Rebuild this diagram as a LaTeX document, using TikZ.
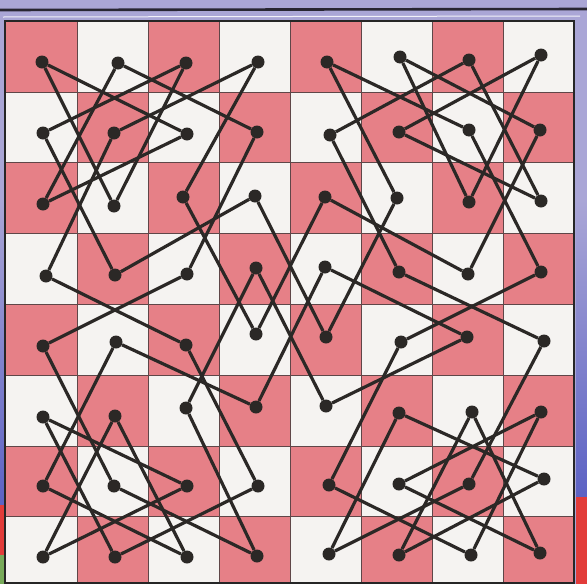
\documentclass[tikz,border=0pt]{standalone}
\usetikzlibrary{shapes.geometric}
\definecolor{frame}{RGB}{170,166,214}
\definecolor{frameblue}{RGB}{92,98,196}
\definecolor{framered}{RGB}{226,60,58}
\definecolor{framegreen}{RGB}{120,170,90}
\definecolor{sqred}{RGB}{230,128,135}
\definecolor{sqwhite}{RGB}{245,243,241}
\definecolor{gridc}{RGB}{95,70,72}
\definecolor{ink}{RGB}{43,40,38}
\tikzset{
  dot/.style={circle,fill=ink,inner sep=0pt,minimum size=13pt},
  tour/.style={draw=ink,line width=3.2pt},
  gridline/.style={draw=gridc,line width=0.9pt}
}
\begin{document}
\begin{tikzpicture}[x=1pt,y=-1pt]
\useasboundingbox (0,0) rectangle (587,584);
% frame
\fill[frame] (0,0) rectangle (587,584);
\shade[top color=frame,bottom color=frameblue] (576,200) rectangle (587,497);
\fill[framered] (576,497) rectangle (587,584);
\shade[top color=frame,bottom color=frameblue] (0,200) rectangle (4,505);
\fill[framered] (0,505) rectangle (4,555);
\fill[framegreen] (0,555) rectangle (4,584);
\draw[draw={rgb,255:red,40;green,38;blue,50},line width=2.6pt] (0,10) -- (587,9);
\draw[draw=white!85!frame,line width=1pt] (3,17) -- (580,16);
% board squares
\fill[sqwhite] (5,21) rectangle (574,582);
\foreach \c/\xa/\xb in {0/5/77,1/77/148,2/148/219,3/219/290,4/290/361,5/361/432,6/432/503,7/503/574}{
  \foreach \r/\ya/\yb in {0/21/92,1/92/162,2/162/233,3/233/304,4/304/375,5/375/446,6/446/516,7/516/582}{
    \pgfmathtruncatemacro\parity{mod(\c+\r,2)}
    \ifnum\parity=0 \fill[sqred] (\xa,\ya) rectangle (\xb,\yb);\fi
  }
}
\foreach \xx in {77,148,219,290,361,432,503}{\draw[gridline] (\xx,21) -- (\xx,582);}
\foreach \yy in {92,162,233,304,375,446,516}{\draw[gridline] (5,\yy) -- (574,\yy);}
\draw[draw=black!85,line width=2.4pt] (5,21) rectangle (574,583);
% dots
\foreach \c/\r/\x/\y in {
 0/0/42/62, 1/0/118/63, 2/0/186/63, 3/0/258/62, 4/0/327/62, 5/0/400/57, 6/0/469/60, 7/0/541/55,
 0/1/43/133, 1/1/114/133, 2/1/187/134, 3/1/257/132, 4/1/330/135, 5/1/399/132, 6/1/469/130, 7/1/540/130,
 0/2/43/204, 1/2/114/206, 2/2/183/197, 3/2/255/196, 4/2/325/197, 5/2/397/198, 6/2/469/202, 7/2/541/201,
 0/3/46/276, 1/3/115/275, 2/3/187/274, 3/3/256/268, 4/3/325/267, 5/3/399/272, 6/3/468/274, 7/3/541/272,
 0/4/43/346, 1/4/116/342, 2/4/186/345, 3/4/256/334, 4/4/326/337, 5/4/401/342, 6/4/467/337, 7/4/544/341,
 0/5/43/417, 1/5/115/416, 2/5/186/408, 3/5/256/407, 4/5/326/406, 5/5/399/413, 6/5/472/412, 7/5/541/412,
 0/6/43/486, 1/6/114/486, 2/6/187/486, 3/6/258/486, 4/6/329/485, 5/6/399/484, 6/6/469/484, 7/6/544/479,
 0/7/43/557, 1/7/115/557, 2/7/187/557, 3/7/257/556, 4/7/329/554, 5/7/399/555, 6/7/471/555, 7/7/540/553}{
  \node[dot] (n\c\r) at (\x,\y) {};
}
% knight's tour
\foreach \a/\b in {
 00/21, 00/12, 10/31, 10/02, 20/01, 20/12, 30/11, 30/22, 40/61, 40/52, 50/71, 50/62, 60/41, 60/72, 70/51, 70/62,
 01/13, 11/03, 21/02, 31/23, 41/53, 51/72, 61/73, 71/63,
 22/34, 32/13, 32/44, 42/34, 42/63, 52/44,
 03/24, 23/04, 33/25, 33/45, 43/64, 43/35, 53/74, 73/54,
 04/16, 14/06, 14/35, 24/36, 54/46, 64/45, 74/66,
 05/26, 05/17, 15/07, 15/27, 25/37, 55/76, 55/47, 65/57, 65/77, 75/56, 75/67,
 06/27, 16/37, 26/07, 36/17, 46/67, 56/77, 66/47, 76/57}{
  \draw[tour] (n\a) -- (n\b);
}
\end{tikzpicture}
\end{document}
